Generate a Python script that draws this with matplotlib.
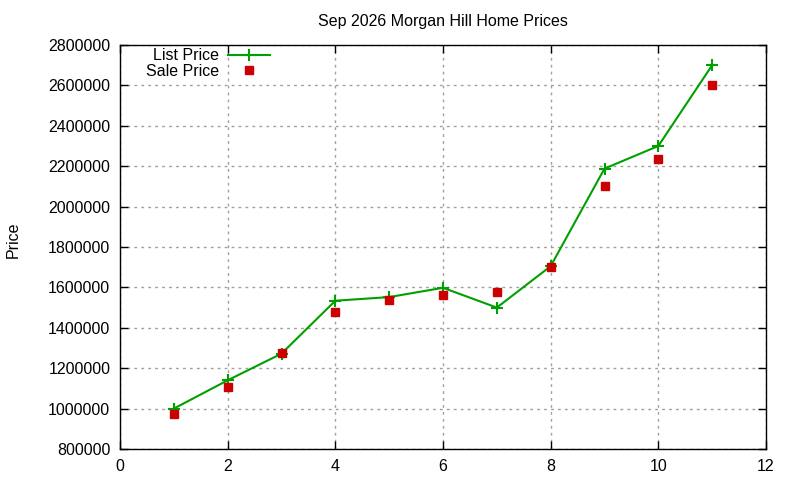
import matplotlib.pyplot as plt
import numpy as np
from matplotlib.ticker import MultipleLocator, FuncFormatter

plt.rcParams['font.family'] = ['Liberation Sans', 'DejaVu Sans']

# 月份序号和价格
months = [1, 2, 3, 4, 5, 6, 7, 8, 9, 10, 11]
list_price = [1000000, 1140000, 1272000, 1534000, 1552000, 1598000, 1500000,
              1705000, 2188000, 2300000, 2700000]
sale_price = [972000, 1105000, 1276000, 1480000, 1539000, 1564000, 1579000,
              1702000, 2103000, 2237000, 2600000]

fig = plt.figure(figsize=(8, 4.8), dpi=100)
ax = fig.add_axes([0.15, 0.0646, 0.8075, 0.8417])

ax.plot(months, list_price, color='#00a000', linewidth=1.5, marker='+',
        markersize=8, markeredgewidth=1.5, label='List Price')
ax.plot(months, sale_price, linestyle='none', marker='s', markersize=6,
        color='#cc0000', label='Sale Price')

ax.set_xlim(0, 12)
ax.set_ylim(800000, 2800000)
ax.xaxis.set_major_locator(MultipleLocator(2))
ax.yaxis.set_major_locator(MultipleLocator(200000))
ax.yaxis.set_major_formatter(FuncFormatter(lambda v, p: f"{int(v)}"))
ax.tick_params(direction='in', top=True, right=True, length=6, width=1,
               labelsize=11.5, pad=7)
ax.grid(True, color='#a0a0a0', linestyle=(0, (2, 3)), linewidth=1)
for s in ax.spines.values():
    s.set_linewidth(1)

ax.set_title('Sep 2026 Morgan Hill Home Prices', fontsize=11.5, pad=14)
fig.text(0.016, 0.5, 'Price', rotation=90, va='center', ha='center', fontsize=11.5)

leg = ax.legend(loc='upper left', frameon=False, markerfirst=False,
                handlelength=2.6, fontsize=11.5, borderaxespad=0.2,
                labelspacing=0.05, handletextpad=0.6,
                bbox_to_anchor=(0.025, 1.016))

fig.savefig('out.png', dpi=100)
